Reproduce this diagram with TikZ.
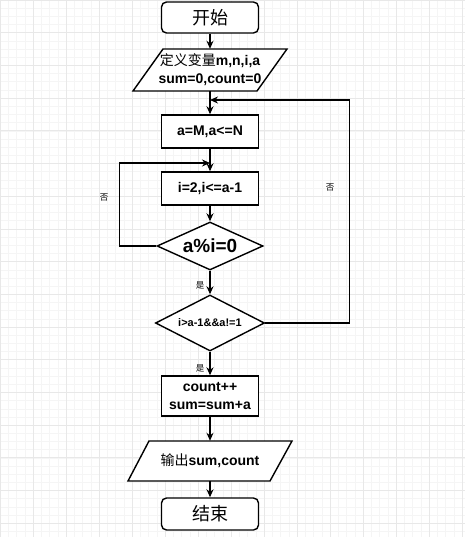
\documentclass[tikz,border=0pt]{standalone}
\usepackage{fontspec}
\setmainfont{Liberation Sans}
\newfontfamily\cjk{Noto Sans CJK SC}
\usetikzlibrary{shapes.geometric,arrows.meta,calc}
\begin{document}
\begin{tikzpicture}[x=1pt,y=-1pt,
  minorgrid/.style={draw=black!4,line width=0.5pt},
  majorgrid/.style={draw=black!9,line width=0.7pt},
  shapeline/.style={draw=black,line width=1.4pt,fill=white},
  box/.style={shapeline,rectangle,minimum width=97pt,minimum height=33pt,inner sep=0pt,align=center,font=\bfseries\fontsize{14}{18}\selectfont},
  term/.style={box,rounded corners=5pt,font=\cjk\fontsize{18}{20}\selectfont},
  dia/.style={shapeline,diamond,aspect=2,inner sep=0pt,align=center},
  iotext/.style={rectangle,inner sep=0pt,align=center,font=\bfseries\fontsize{14}{18}\selectfont},
  arr/.style={line width=1.3pt,-{Stealth[length=8pt,width=7pt]}},
  lbl/.style={font=\cjk\fontsize{8.5}{9}\selectfont,inner sep=1pt}]
\fill[white] (0,0) rectangle (465,537);
\useasboundingbox (0,0) rectangle (465,537);
% grid
\foreach \i in {0,...,57} \draw[minorgrid] (\i*8.25,0) -- (\i*8.25,537);
\foreach \j in {0,...,66} \draw[minorgrid] (0,\j*8.175) -- (465,\j*8.175);
\foreach \i in {0,...,14} \draw[majorgrid] (\i*33,0) -- (\i*33,537);
\foreach \j in {0,...,16} \draw[majorgrid] (0,\j*32.7) -- (465,\j*32.7);

% start
\node[term,minimum height=31pt] (start) at (210,17.5) {开始};

% input parallelogram
\coordinate (inc) at (210,70);
\draw[shapeline] ($(inc)+(-47,-21)$) -- ($(inc)+(77,-21)$) -- ($(inc)+(47,21)$) -- ($(inc)+(-77,21)$) -- cycle;
\node[iotext,minimum width=125pt,minimum height=42pt] (in) at (inc) {{\mdseries\cjk 定义变量}m,n,i,a\\sum=0,count=0};

\node[box] (b1) at (210,131.5) {a=M,a<=N};
\node[box] (b2) at (210,188.5) {i=2,i<=a-1};
\node[dia,minimum width=106pt,minimum height=48pt,font=\bfseries\fontsize{19}{20}\selectfont] (d1) at (210,246) {a\%i=0};
\node[dia,minimum width=109pt,minimum height=56pt,font=\bfseries\fontsize{11}{12}\selectfont] (d2) at (210,323) {i>a-1\&\&a!=1};
\node[box,minimum height=40pt] (b3) at (210,396) {count++\\sum=sum+a};

% output parallelogram
\coordinate (outc) at (210,461);
\draw[shapeline] ($(outc)+(-61,-20)$) -- ($(outc)+(82,-20)$) -- ($(outc)+(60,20)$) -- ($(outc)+(-82,20)$) -- cycle;
\node[iotext,minimum width=143pt,minimum height=40pt] (out) at (outc) {{\mdseries\cjk 输出}sum,count};

\node[term,minimum height=32pt] (end) at (210,514) {结束};

% junctions
\coordinate (j1) at (210,163);
\coordinate (j2) at (210,100);

% connectors
\draw[arr] (start.south) -- (in.north);
\draw[arr] (in.south) -- (b1.north);
\draw[arr] (b1.south) -- (b2.north);
\draw[arr] (b2.south) -- (d1.north);
\draw[arr] (d1.south) -- (d2.north);
\draw[arr] (d2.south) -- (b3.north);
\draw[arr] (b3.south) -- (out.north);
\draw[arr] (out.south) -- (end.north);
\draw[arr] (d1.west) -- ++(-37,0) |- (j1);
\draw[arr] (d2.east) -- ++(84,0) |- (j2);

% labels
\node[lbl] (no1) at (104,198) {否};
\node[lbl] (no2) at (330,188) {否};
\node[lbl] (yes1) at (200,285) {是};
\node[lbl] (yes2) at (200,368) {是};
\end{tikzpicture}
\end{document}
